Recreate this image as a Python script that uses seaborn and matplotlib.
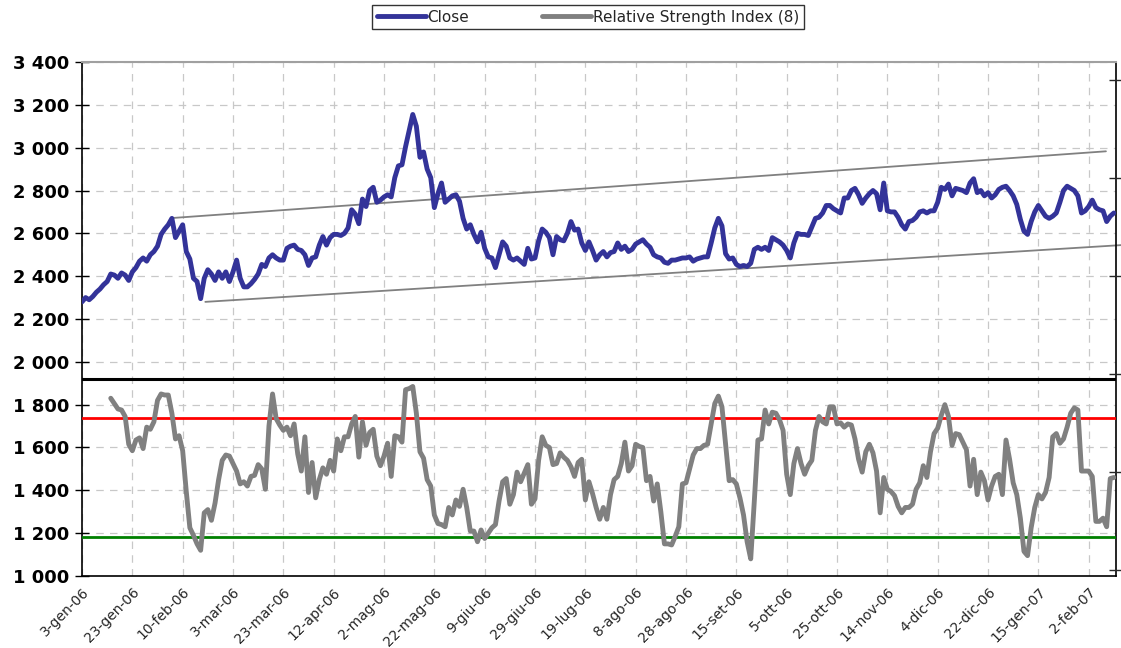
import numpy as np
import pandas as pd
import matplotlib
matplotlib.use("Agg")
import matplotlib.pyplot as plt
import matplotlib.ticker as mticker
from matplotlib.lines import Line2D
import seaborn as sns

# ─── Data (one value per trading day) ─────────────────────────────────────────

close = [
    2280, 2300, 2290, 2305, 2325, 2340, 2360, 2375, 2410, 2405,
    2390, 2415, 2405, 2380, 2420, 2440, 2470, 2485, 2470, 2500,
    2515, 2540, 2595, 2620, 2640, 2670, 2580, 2610, 2640, 2515,
    2480, 2390, 2375, 2295, 2390, 2430, 2410, 2380, 2420, 2390,
    2420, 2375, 2420, 2475, 2390, 2350, 2350, 2365, 2385, 2410,
    2455, 2445, 2485, 2500, 2485, 2475, 2475, 2530, 2540, 2545,
    2525, 2520, 2500, 2450, 2485, 2490, 2545, 2585, 2545, 2580,
    2595, 2595, 2590, 2600, 2625, 2710, 2690, 2645, 2760, 2725,
    2800, 2815, 2745, 2755, 2770, 2780, 2770, 2860, 2915, 2920,
    3005, 3080, 3155, 3100, 2955, 2980, 2900, 2860, 2720, 2785,
    2835, 2745, 2760, 2775, 2780, 2750, 2670, 2620, 2640, 2595,
    2560, 2605, 2530, 2490, 2485, 2440, 2500, 2560, 2540, 2485,
    2475, 2485, 2470, 2455, 2530, 2480, 2485, 2565, 2620, 2605,
    2580, 2500, 2585, 2570, 2565, 2600, 2655, 2615, 2620, 2555,
    2520, 2560, 2520, 2475, 2500, 2515, 2490, 2510, 2515, 2555,
    2525, 2540, 2515, 2525, 2550, 2560, 2570, 2550, 2535, 2500,
    2490, 2485, 2465, 2460, 2475, 2475, 2480, 2485, 2485, 2490,
    2470, 2480, 2485, 2490, 2490, 2555, 2625, 2670, 2635, 2505,
    2480, 2485, 2455, 2445, 2450, 2445, 2460, 2525, 2535, 2525,
    2535, 2520, 2580, 2570, 2560, 2545, 2520, 2485, 2555, 2600,
    2595, 2595, 2590, 2630, 2670, 2675, 2695, 2730, 2730, 2715,
    2705, 2695, 2765, 2765, 2800, 2810, 2780, 2740, 2765, 2785,
    2800, 2785, 2710, 2835, 2705, 2700, 2700, 2675, 2640, 2620,
    2655, 2660, 2675, 2700, 2705, 2695, 2705, 2705, 2745, 2815,
    2805, 2830, 2775, 2810, 2805, 2800, 2790, 2835, 2855, 2790,
    2800, 2775, 2790, 2765, 2780, 2805, 2815, 2820, 2800, 2775,
    2735, 2665, 2610, 2595, 2655, 2700, 2730, 2705, 2680, 2670,
    2680, 2695, 2745, 2800, 2820, 2810, 2800, 2775, 2695, 2705,
    2725, 2755, 2720, 2710, 2705, 2655, 2680, 2695,
]

# RSI(8), rescaled on the same axis, starts on day 8
rsi_start = 8
rsi = [
    1830, 1805, 1780, 1775, 1745, 1615, 1585, 1635, 1645, 1595,
    1695, 1685, 1720, 1820, 1850, 1845, 1845, 1760, 1640, 1655,
    1585, 1395, 1225, 1190, 1150, 1120, 1295, 1310, 1260, 1340,
    1450, 1540, 1565, 1560, 1525, 1490, 1430, 1440, 1420, 1465,
    1470, 1520, 1500, 1405, 1700, 1850, 1735, 1705, 1680, 1695,
    1655, 1710, 1570, 1490, 1650, 1390, 1530, 1365, 1450, 1505,
    1475, 1540, 1490, 1640, 1585, 1650, 1650, 1710, 1745, 1555,
    1720, 1610, 1670, 1685, 1560, 1515, 1560, 1620, 1465, 1655,
    1650, 1625, 1870, 1875, 1885, 1760, 1580, 1550, 1450, 1420,
    1285, 1245, 1240, 1230, 1320, 1285, 1355, 1325, 1405, 1320,
    1210, 1210, 1160, 1215, 1175, 1200, 1225, 1240, 1350, 1440,
    1455, 1335, 1380, 1485, 1440, 1480, 1520, 1335, 1360, 1540,
    1650, 1610, 1600, 1520, 1525, 1575, 1555, 1540, 1510, 1465,
    1530, 1545, 1355, 1440, 1385, 1320, 1265, 1320, 1265, 1380,
    1450, 1465, 1525, 1625, 1490, 1515, 1615, 1605, 1600, 1445,
    1465, 1350, 1430, 1300, 1150, 1150, 1145, 1185, 1230, 1430,
    1435, 1500, 1565, 1595, 1595, 1610, 1615, 1710, 1805, 1840,
    1790, 1615, 1445, 1450, 1430, 1365, 1285, 1160, 1080, 1350,
    1635, 1640, 1775, 1710, 1765, 1760, 1730, 1680, 1475, 1380,
    1525, 1595, 1525, 1475, 1515, 1540, 1680, 1745, 1720, 1710,
    1790, 1790, 1710, 1715, 1695, 1710, 1705, 1640, 1545, 1485,
    1580, 1615, 1575, 1490, 1295, 1460, 1405, 1395, 1375, 1325,
    1295, 1320, 1320, 1335, 1405, 1435, 1515, 1460, 1580, 1665,
    1690, 1750, 1800, 1745, 1610, 1665, 1660, 1625, 1590, 1420,
    1545, 1380, 1485, 1445, 1355, 1420, 1465, 1475, 1380, 1635,
    1545, 1435, 1380, 1270, 1115, 1095, 1225, 1320, 1380, 1360,
    1390, 1460, 1650, 1665, 1620, 1640, 1695, 1760, 1785, 1775,
    1490, 1490, 1490, 1465, 1255, 1255, 1270, 1230, 1455, 1460,
]

tick_labels = [
    "3-gen-06", "23-gen-06", "10-feb-06", "3-mar-06", "23-mar-06",
    "12-apr-06", "2-mag-06", "22-mag-06", "9-giu-06", "29-giu-06",
    "19-lug-06", "8-ago-06", "28-ago-06", "15-set-06", "5-ott-06",
    "25-ott-06", "14-nov-06", "4-dic-06", "22-dic-06", "15-gen-07",
    "2-feb-07",
]
tick_step = 14  # trading days between labels

# channel lines (day, value)
upper_channel = ([25.5, 284.8], [2672, 2983])
lower_channel = ([34.3, 289.0], [2280, 2545])

overbought = 1740
oversold = 1180
separator = 1920

# ─── Plot ─────────────────────────────────────────────────────────────────────

sns.set_style("white")
plt.rcParams["font.family"] = ["DejaVu Sans"]

days = np.arange(len(close))
df_close = pd.DataFrame({"day": days, "value": close})
df_rsi = pd.DataFrame({"day": np.arange(rsi_start, rsi_start + len(rsi)), "value": rsi})

fig = plt.figure(figsize=(11.21, 6.48), dpi=100)
ax = fig.add_axes([82 / 1121, 1 - 576 / 648, (1116 - 82) / 1121, (576 - 62) / 648])

blue = "#333399"
grey = "#808080"

ax.plot(*upper_channel, color="#808080", lw=1.3, zorder=2)
ax.plot(*lower_channel, color="#808080", lw=1.3, zorder=2, clip_on=False)

sns.lineplot(data=df_close, x="day", y="value", ax=ax, color=blue, lw=3.5, zorder=4)
sns.lineplot(data=df_rsi, x="day", y="value", ax=ax, color=grey, lw=3.5, zorder=4)

ax.axhline(separator, color="black", lw=2.2, zorder=5)
ax.axhline(overbought, color="#ff0000", lw=2, zorder=3)
ax.axhline(oversold, color="#008000", lw=2, zorder=3)

ax.set_ylim(1000, 3400)
ax.set_xlim(0, len(close) - 0.4)
ax.yaxis.set_major_locator(mticker.MultipleLocator(200))
ax.yaxis.set_major_formatter(mticker.FuncFormatter(lambda v, _: f"{v:,.0f}".replace(",", " ")))

ax.set_xticks(np.arange(len(tick_labels)) * tick_step)
ax.set_xticklabels(tick_labels, rotation=45, ha="right", rotation_mode="anchor", fontsize=10)
for lab in ax.get_yticklabels():
    lab.set_fontweight("bold")
    lab.set_fontsize(13)

ax.tick_params(axis="y", direction="inout", length=10, width=1, pad=4, colors="black")
ax.tick_params(axis="x", direction="inout", length=9, width=1, pad=2)
ax.set_xlabel("")
ax.set_ylabel("")

ax.grid(True, color="#c8c8c8", linestyle=(0, (6, 5)), lw=0.9)
ax.set_axisbelow(True)

for side in ["left", "bottom", "right"]:
    ax.spines[side].set_color("black")
    ax.spines[side].set_linewidth(1.2)
ax.spines["top"].set_color("#a0a0a0")
ax.spines["top"].set_linewidth(1.5)

# unlabeled ticks on the right spine
ax2 = ax.twinx()
ax2.set_ylim(ax.get_ylim())
ax2.set_yticks([3316, 2858, 2400, 1942, 1484, 1026])
ax2.set_yticklabels([])
ax2.tick_params(axis="y", direction="inout", length=10, width=1)
for s in ax2.spines.values():
    s.set_visible(False)

handles = [
    Line2D([], [], color=blue, lw=3.5),
    Line2D([], [], color=grey, lw=3.5),
]
fig.legend(handles, ["Close", "Relative Strength Index (8)"],
           loc="upper center", bbox_to_anchor=(588 / 1121, 1 - 5 / 648),
           ncol=2, frameon=True, fancybox=False, edgecolor="black",
           fontsize=11, handlelength=3.2, handletextpad=0.1,
           columnspacing=4.8, borderpad=0.3, borderaxespad=0)

fig.savefig("out.png", dpi=100)
